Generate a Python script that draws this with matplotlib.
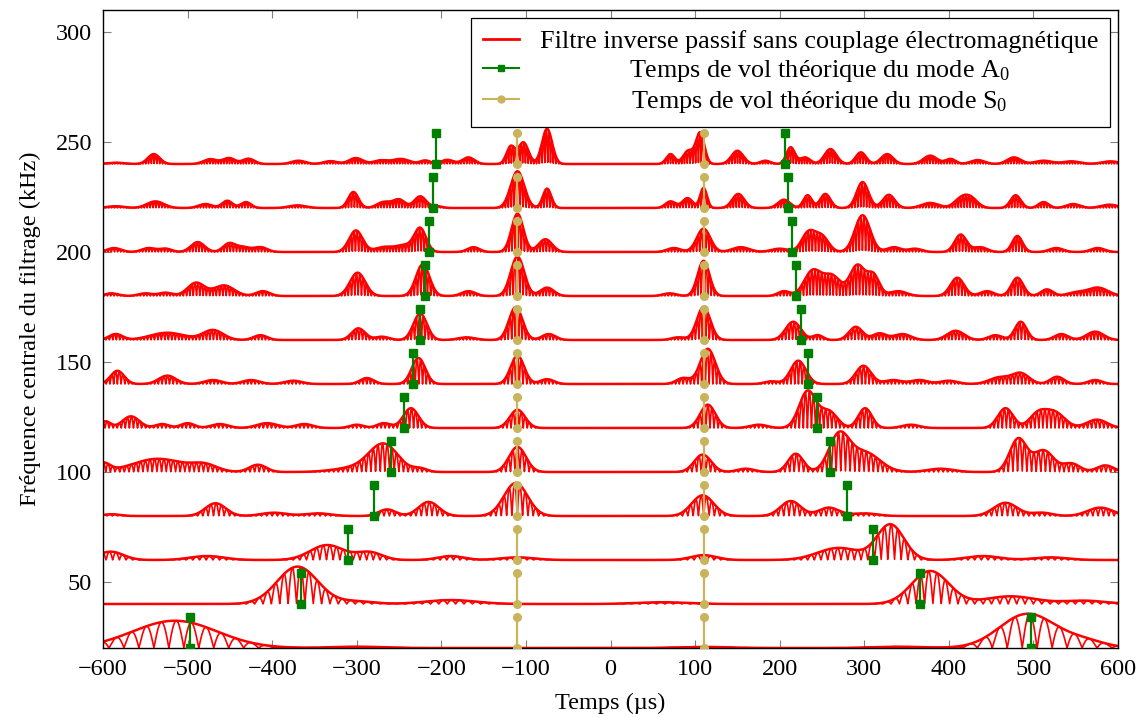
import numpy as np
import matplotlib
matplotlib.use('Agg')
import matplotlib.pyplot as plt
from matplotlib.lines import Line2D
from matplotlib.transforms import Affine2D

# centre frequencies of the filters (kHz) = baseline of each trace
freqs = [20, 40, 60, 80, 100, 120, 140, 160, 180, 200, 220, 240]
# theoretical times of flight (us)
t_a0 = [497, 366, 310, 280, 259, 244, 233, 225, 219, 214, 210, 206]
t_s0 = 110
mark_h = 14
# visible oscillation period of each trace (us)
periods = [17.7, 9.9, 7.9, 6.3, 5.5, 4.8, 4.4, 4.1, 3.9, 3.7, 3.5, 3.3]

# wave packets: (centre us, amplitude kHz, width us)
packets_020 = [(-515, 12.4, 50), (-300, 0.6, 30), (110, 0.5, 30), (340, 0.6, 30),
               (493, 15.5, 33), (560, 3, 25)]
packets_040 = [(-370, 17, 24), (-300, 1.2, 20), (-189, 1.8, 30), (60, 0.8, 30),
               (378, 15, 22), (473, 3.5, 30), (560, 1.5, 25)]
packets_060 = [(-591, 3.8, 15), (-477, 1.8, 20), (-335, 6.8, 20), (-285, 3.5, 15),
               (-189, 1.8, 15), (-110, 1.2, 20), (110, 2.2, 15), (270, 5.5, 25),
               (331, 16, 16), (440, 1.8, 20), (520, 1.2, 20)]
packets_080 = [(-590, 0.8, 10), (-467, 5.8, 12), (-398, 1.5, 15), (-346, 1.2, 15),
               (-264, 3, 10), (-215, 6.4, 12), (-112, 15, 14), (109, 9.4, 13),
               (213, 6.8, 12), (258, 3.8, 12), (300, 1.2, 15), (467, 6, 14),
               (510, 1.5, 12), (579, 3.8, 15)]
packets_100 = [(-600, 3.8, 8), (-535, 6, 30), (-480, 3, 15), (-417, 3.3, 10),
               (-300, 2, 25), (-268, 12.1, 17), (-225, 1.5, 8), (-110, 11.4, 10),
               (109, 7.9, 10), (160, 1.5, 10), (219, 8.3, 9), (270, 16, 12),
               (300, 9, 18), (390, 1.5, 15), (482, 15, 10), (512, 9.8, 12),
               (545, 3.8, 10), (585, 3, 10)]
packets_120 = [(-597, 3, 6), (-567, 5.3, 10), (-530, 1.8, 8), (-500, 2.2, 8),
               (-462, 1.8, 10), (-406, 2.2, 12), (-362, 1.8, 10), (-300, 1.5, 8),
               (-268, 2.2, 8), (-236, 9, 9), (-110, 8.3, 9), (115, 10.6, 9),
               (175, 1.5, 10), (233, 16.7, 10), (258, 7.5, 10), (301, 9, 8),
               (355, 1.5, 10), (467, 9, 9), (505, 6, 10), (525, 7, 12), (575, 3.8, 12)]
packets_140 = [(-583, 6, 8), (-524, 3.8, 10), (-470, 1.8, 10), (-425, 1.8, 10),
               (-375, 1.5, 10), (-288, 2.7, 8), (-227, 11.8, 8), (-110, 12.9, 8),
               (-75, 2.2, 8), (86, 2.7, 8), (115, 16, 9), (190, 1.2, 8),
               (222, 10.6, 9), (299, 8.3, 9), (334, 1.8, 10), (365, 1.8, 10),
               (400, 1.5, 10), (460, 3, 12), (485, 4.8, 10), (528, 3.3, 8), (573, 1.8, 8)]
packets_160 = [(-585, 2.7, 8), (-524, 3.3, 20), (-470, 4.5, 12), (-414, 2.2, 8),
               (-298, 5.3, 8), (-270, 1.5, 8), (-225, 12, 8), (-170, 1.2, 10),
               (-112, 15, 8), (-73, 2.7, 8), (80, 1.2, 8), (110, 15, 8),
               (216, 8.3, 9), (245, 2.2, 6), (290, 6, 8), (318, 3, 8), (345, 2.7, 10),
               (408, 4.2, 10), (455, 2.2, 8), (485, 8.3, 7), (533, 2.7, 8), (573, 3.8, 10)]
packets_180 = [(-590, 1.2, 8), (-550, 1.2, 8), (-526, 1.5, 8), (-490, 6, 10),
               (-457, 4.8, 12), (-411, 2.2, 8), (-299, 10.6, 9), (-222, 14.4, 8),
               (-168, 2.2, 8), (-110, 17.9, 8), (-75, 3.8, 8), (70, 1.2, 8),
               (110, 16, 7), (205, 2.2, 7), (239, 11.4, 10), (262, 9, 10),
               (292, 14, 9), (311, 9, 7), (340, 2.2, 10), (410, 8.3, 8), (445, 2.2, 8),
               (481, 8.3, 7), (516, 3, 7), (550, 1.5, 10), (576, 3.8, 12)]
packets_200 = [(-587, 1.8, 8), (-546, 1.8, 8), (-526, 1.5, 7), (-488, 4.5, 8),
               (-451, 3.8, 7), (-435, 2.2, 8), (-414, 2.2, 8), (-301, 9.8, 8),
               (-268, 2.2, 10), (-244, 3, 10), (-225, 10.6, 7), (-162, 2.2, 7),
               (-110, 17.4, 7), (-77, 5.8, 8), (75, 1.8, 8), (110, 10.6, 8),
               (154, 2.2, 10), (200, 1.5, 10), (234, 8.8, 8), (250, 6.8, 8),
               (298, 16.7, 9), (335, 2.2, 8), (360, 1.5, 8), (414, 7.9, 7),
               (437, 2.2, 8), (481, 7.3, 6), (527, 1.8, 8), (576, 1.8, 8)]
packets_220 = [(-585, 0.8, 10), (-538, 3, 10), (-479, 1.8, 8), (-453, 3.3, 6),
               (-431, 2.7, 6), (-370, 1.2, 10), (-304, 7.3, 6), (-268, 2.7, 8),
               (-250, 3.8, 7), (-225, 5.3, 7), (-205, 0.8, 6), (-110, 16.7, 8),
               (-75, 8.8, 5), (71, 3, 6), (91, 4.5, 6), (110, 9.1, 4), (151, 6.4, 7),
               (205, 3.8, 7), (233, 5.8, 5), (254, 6.4, 6), (298, 11.8, 7),
               (329, 6, 7), (378, 2.3, 10), (414, 3.8, 8), (426, 4.2, 8),
               (479, 5.8, 6), (512, 2.7, 6), (547, 1.8, 8), (590, 1.5, 10)]
packets_240 = [(-585, 0.6, 10), (-540, 4.5, 7), (-473, 2.2, 8), (-451, 2.7, 7),
               (-428, 2.4, 7), (-369, 1.5, 8), (-331, 1.3, 8), (-301, 2.7, 8),
               (-272, 1.6, 8), (-248, 2.3, 10), (-219, 1.6, 6), (-193, 1.9, 7),
               (-168, 3.0, 7), (-118, 7.9, 5), (-103, 9.8, 6), (-75, 16, 6),
               (71, 4.5, 5), (92, 6, 6), (106, 14, 5), (150, 6, 7), (183, 1.5, 6),
               (213, 7.6, 5), (230, 3, 6), (260, 6.8, 7), (296, 5.3, 6),
               (327, 4.5, 7), (378, 3.8, 8), (402, 2.3, 6), (434, 1.8, 8),
               (477, 3, 8), (512, 1.5, 10), (545, 1.2, 10), (591, 1.2, 10)]
packets = [packets_020, packets_040, packets_060, packets_080, packets_100, packets_120,
           packets_140, packets_160, packets_180, packets_200, packets_220, packets_240]

plt.rcParams['font.family'] = 'Liberation Serif'
plt.rcParams['mathtext.fontset'] = 'custom'
plt.rcParams['mathtext.rm'] = 'Liberation Serif'
plt.rcParams['mathtext.it'] = 'Liberation Serif:italic'
plt.rcParams['font.size'] = 17.5

red = '#ff0000'
green = '#008000'
olive = '#c8b45a'

fig = plt.figure(figsize=(11.46, 7.17), dpi=100)
ax = fig.add_axes([103 / 1146, 1 - 648 / 717, 1015 / 1146, 638 / 717])

t = np.linspace(-600, 600, 6001)
for f, P, pk in zip(freqs, periods, packets):
    env = np.zeros_like(t)
    for c, a, s in pk:
        env += a * np.exp(-0.5 * ((t - c) / s) ** 2)
    sig = env * np.abs(np.cos(np.pi * t / P))
    ax.plot(t, f + sig, color=red, lw=1.2)
    ax.plot(t, f + env, color=red, lw=1.8)

for f, ta in zip(freqs, t_a0):
    for sgn in (-1, 1):
        ax.plot([sgn * ta] * 2, [f, f + mark_h], color=green, marker='s', ms=5.5, lw=1.6, zorder=5)
        ax.plot([sgn * t_s0] * 2, [f, f + mark_h], color=olive, marker='o', ms=5.5, lw=1.6, zorder=5)

ax.set_xlim(-600, 600)
ax.set_ylim(20, 310)
ax.set_xticks(np.arange(-600, 601, 100))
ax.set_yticks(np.arange(50, 301, 50))
ax.tick_params(direction='in', length=6, width=0.8, color='#808080', top=True, right=True, pad=8)
for sp in ax.spines.values():
    sp.set_linewidth(1.0)
ax.set_xlabel('Temps (µs)', labelpad=9)
ax.set_ylabel('Fréquence centrale du filtrage (kHz)', labelpad=10)

handles = [Line2D([], [], color=red, lw=2),
           Line2D([], [], color=green, lw=1.5, marker='s', ms=5),
           Line2D([], [], color=olive, lw=1.5, marker='o', ms=5)]
labels = ['Filtre inverse passif sans couplage électromagnétique',
          r'Temps de vol théorique du mode A$_0$',
          r'Temps de vol théorique du mode S$_0$']
leg = ax.legend(handles, labels, loc='upper right', fancybox=False, framealpha=1,
                edgecolor='black', handlelength=1.4, handletextpad=0.8,
                labelspacing=0.2, borderaxespad=0.3, borderpad=0.45, fontsize=18.8)
leg.get_frame().set_linewidth(0.9)

fig.canvas.draw()
texts = leg.get_texts()
w0 = texts[0].get_window_extent().width
for tx in texts[1:]:
    dx = (w0 - tx.get_window_extent().width) / 2
    tx.set_transform(tx.get_transform() + Affine2D().translate(dx, 0))

fig.savefig('out.png', dpi=100)
